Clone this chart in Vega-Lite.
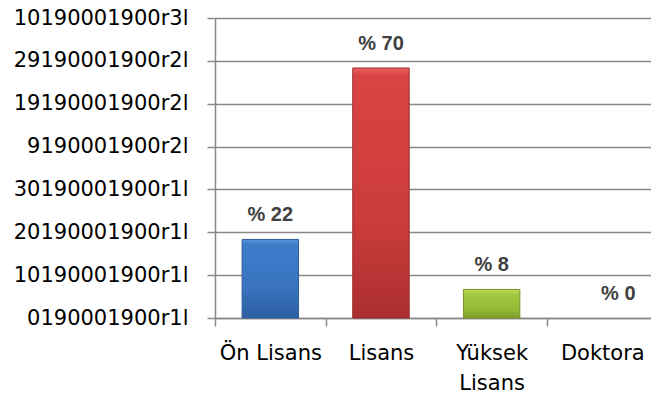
{
  "$schema": "https://vega.github.io/schema/vega-lite/v6.json",
  "width": 436,
  "height": 300,
  "autosize": {"type": "none"},
  "padding": {"left": 215, "top": 18, "right": 0, "bottom": 83},
  "background": "white",
  "config": {"view": {"stroke": null}},
  "data": {
    "values": [
      {"level": "Ön Lisans", "value": 22, "label": "% 22"},
      {"level": "Lisans", "value": 70, "label": "% 70"},
      {"level": "Yüksek Lisans", "value": 8, "label": "% 8"},
      {"level": "Doktora", "value": 0, "label": "% 0"}
    ]
  },
  "encoding": {
    "x": {
      "field": "level",
      "type": "nominal",
      "sort": null,
      "scale": {
        "domain": ["Ön Lisans", "Lisans", "Yüksek Lisans", "Doktora"],
        "range": [0, 442.6],
        "paddingInner": 0,
        "paddingOuter": 0
      },
      "axis": {
        "title": null,
        "labelAngle": 0,
        "labelFont": "DejaVu Sans",
        "labelFontSize": 21,
        "labelColor": "#000000",
        "labelPadding": 16,
        "labelLineHeight": 30,
        "labelOverlap": false,
        "labelExpr": "datum.value == 'Yüksek Lisans' ? ['Yüksek', 'Lisans'] : datum.label",
        "tickBand": "extent",
        "tickColor": "#888888",
        "tickWidth": 1.5,
        "tickSize": 8,
        "domainColor": "#888888",
        "domainWidth": 1.5,
        "grid": false
      }
    },
    "y": {
      "field": "value",
      "type": "quantitative",
      "scale": {"domain": [0, 84], "nice": false},
      "axis": {
        "title": null,
        "values": [0, 12, 24, 36, 48, 60, 72, 84],
        "labelExpr": "['0190001900r1l','10190001900r1l','20190001900r1l','30190001900r1l','9190001900r2l','19190001900r2l','29190001900r2l','10190001900r3l'][round(datum.value / 12)]",
        "labelFont": "DejaVu Sans",
        "labelFontSize": 21,
        "labelColor": "#000000",
        "labelPadding": 19,
        "labelOverlap": false,
        "tickSize": 8,
        "tickColor": "#888888",
        "tickWidth": 1.5,
        "domainColor": "#888888",
        "domainWidth": 1.5,
        "grid": true,
        "gridColor": "#888888",
        "gridWidth": 1.5
      }
    }
  },
  "layer": [
    {
      "transform": [{"filter": "datum.level == 'Ön Lisans'"}],
      "mark": {
        "type": "bar",
        "width": {"band": 0.51},
        "stroke": "#2b5a96",
        "strokeWidth": 1,
        "color": {
          "gradient": "linear",
          "x1": 0, "y1": 0, "x2": 0, "y2": 1,
          "stops": [
            {"offset": 0, "color": "#5a98e0"},
            {"offset": 0.06, "color": "#3f7dcb"},
            {"offset": 0.6, "color": "#3a74c0"},
            {"offset": 1, "color": "#2c5fa2"}
          ]
        }
      }
    },
    {
      "transform": [{"filter": "datum.level == 'Lisans'"}],
      "mark": {
        "type": "bar",
        "width": {"band": 0.51},
        "stroke": "#9a2a2a",
        "strokeWidth": 1,
        "color": {
          "gradient": "linear",
          "x1": 0, "y1": 0, "x2": 0, "y2": 1,
          "stops": [
            {"offset": 0, "color": "#ea6262"},
            {"offset": 0.03, "color": "#d94444"},
            {"offset": 0.6, "color": "#cc3c3c"},
            {"offset": 1, "color": "#ab2f2f"}
          ]
        }
      }
    },
    {
      "transform": [{"filter": "datum.level == 'Yüksek Lisans'"}],
      "mark": {
        "type": "bar",
        "width": {"band": 0.51},
        "stroke": "#74922a",
        "strokeWidth": 1,
        "color": {
          "gradient": "linear",
          "x1": 0, "y1": 0, "x2": 0, "y2": 1,
          "stops": [
            {"offset": 0, "color": "#bcdc5a"},
            {"offset": 0.2, "color": "#a2c63e"},
            {"offset": 0.7, "color": "#96bb36"},
            {"offset": 1, "color": "#7d9e2a"}
          ]
        }
      }
    },
    {
      "transform": [{"filter": "datum.value > 0"}],
      "mark": {
        "type": "text",
        "font": "Liberation Sans",
        "fontWeight": "bold",
        "fontSize": 20,
        "color": "#404040",
        "baseline": "alphabetic",
        "dy": -18
      },
      "encoding": {"text": {"field": "label", "type": "nominal"}}
    },
    {
      "transform": [{"filter": "datum.value == 0"}],
      "mark": {
        "type": "text",
        "font": "Liberation Sans",
        "fontWeight": "bold",
        "fontSize": 20,
        "color": "#404040",
        "baseline": "alphabetic",
        "dy": -18,
        "dx": 16
      },
      "encoding": {"text": {"field": "label", "type": "nominal"}}
    }
  ]
}
